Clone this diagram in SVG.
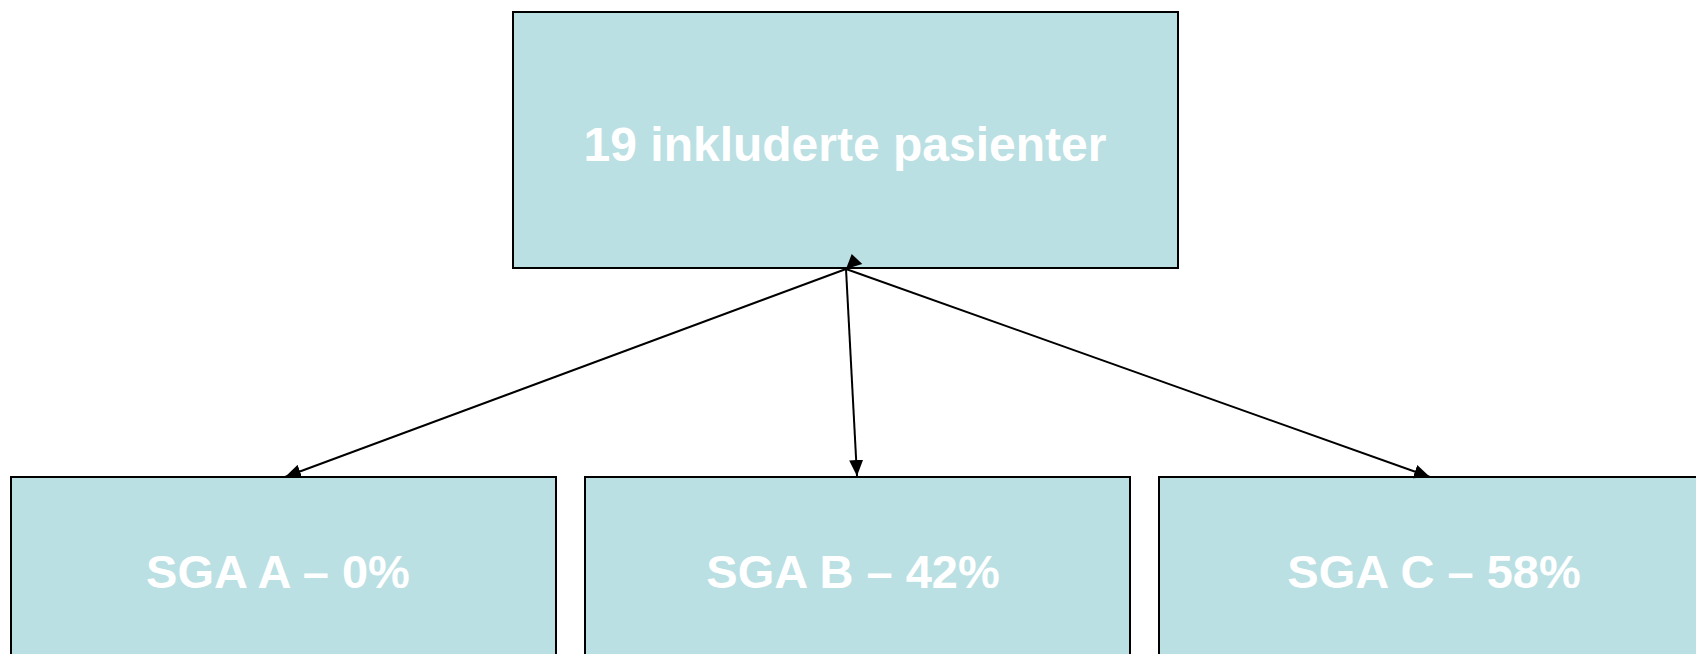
<svg xmlns="http://www.w3.org/2000/svg" width="1696" height="654" viewBox="0 0 1696 654">
<defs>
<style>
.box{fill:#BBE0E3;stroke:#000;stroke-width:2}
.lbl{font-family:"Liberation Sans",Arial,sans-serif;font-weight:bold;font-size:48px;fill:#fff;text-anchor:middle}
.sm{font-size:47px}
.edge{stroke:#000;stroke-width:2;fill:none}
</style>
<marker id="ah" markerUnits="userSpaceOnUse" markerWidth="18" markerHeight="14" refX="16" refY="7" orient="auto">
<path d="M0,0 L16,7 L0,14 Z" fill="#000"/>
</marker>
</defs>
<rect width="1696" height="654" fill="#fff"/>
<g id="top">
<rect class="box" x="513" y="12" width="665" height="256"/>
<text class="lbl" x="845" y="161">19 inkluderte pasienter</text>
</g>
<g id="sgaA">
<rect class="box" x="11" y="477" width="545" height="200"/>
<text class="lbl sm" x="278" y="588">SGA A – 0%</text>
</g>
<g id="sgaB">
<rect class="box" x="585" y="477" width="545" height="200"/>
<text class="lbl sm" x="853" y="588">SGA B – 42%</text>
</g>
<g id="sgaC">
<rect class="box" x="1159" y="477" width="560" height="200"/>
<text class="lbl sm" x="1434" y="588">SGA C – 58%</text>
</g>
<g id="connectors">
<line class="edge" x1="846" y1="269" x2="285" y2="477" marker-end="url(#ah)"/>
<line class="edge" x1="846" y1="269" x2="857" y2="476" marker-end="url(#ah)"/>
<line class="edge" x1="846" y1="269" x2="1430" y2="477" marker-end="url(#ah)"/>
<polygon points="851.7,254 846,269 862.3,264" fill="#000"/>
</g>
</svg>
